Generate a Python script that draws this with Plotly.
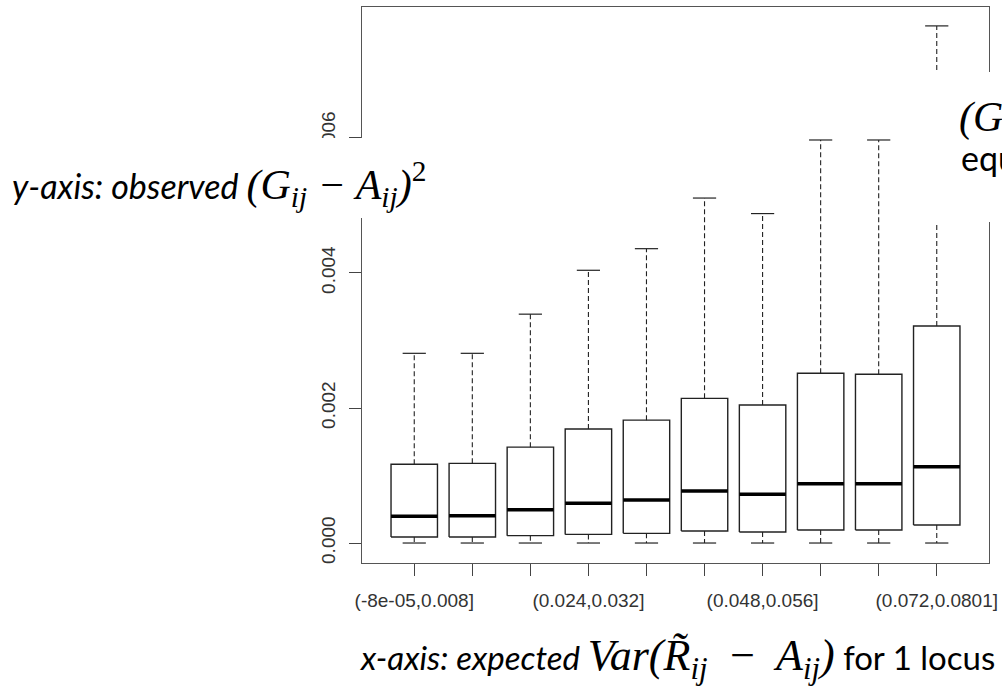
import plotly.graph_objects as go

# ---------------- data ----------------
categories = ["(-8e-05,0.008]", "(0.008,0.016]", "(0.016,0.024]", "(0.024,0.032]",
              "(0.032,0.04]", "(0.04,0.048]", "(0.048,0.056]", "(0.056,0.064]",
              "(0.064,0.072]", "(0.072,0.0801]"]
labelled_categories = ["(-8e-05,0.008]", "(0.024,0.032]", "(0.048,0.056]", "(0.072,0.0801]"]
lower_whisker = [0.0, 0.0, 0.0, 0.0, 0.0, 0.0, 0.0, 0.0, 0.0, 0.0]
q1 = [0.000089, 0.000090, 0.000109, 0.000128, 0.000143, 0.000178, 0.000163, 0.000193, 0.000193, 0.000267]
median = [0.000395, 0.000405, 0.000494, 0.000588, 0.000637, 0.000770, 0.000721, 0.000879, 0.000879, 0.001130]
q3 = [0.001166, 0.001180, 0.001420, 0.001690, 0.001820, 0.002143, 0.002044, 0.002514, 0.002500, 0.003215]
upper_whisker = [0.00281, 0.00281, 0.00339, 0.00404, 0.00436, 0.00511, 0.00488, 0.00597, 0.00597, 0.00766]
y_tick_values = [0.0, 0.002, 0.004, 0.006]
y_tick_text = ["0.000", "0.002", "0.004", "0.006"]

positions = list(range(1, len(categories) + 1))
labelled_positions = [categories.index(c) + 1 for c in labelled_categories]
BOX_HALF = 0.4
CAP_HALF = 0.2

# ---------------- build line paths ----------------
box_x, box_y, med_x, med_y = [], [], [], []
wh_x, wh_y, cap_x, cap_y = [], [], [], []
for p, lo, a, m, b, hi in zip(positions, lower_whisker, q1, median, q3, upper_whisker):
    box_x += [p - BOX_HALF, p + BOX_HALF, p + BOX_HALF, p - BOX_HALF, p - BOX_HALF, None]
    box_y += [a, a, b, b, a, None]
    med_x += [p - BOX_HALF, p + BOX_HALF, None]
    med_y += [m, m, None]
    wh_x += [p, p, None, p, p, None]
    wh_y += [b, hi, None, a, lo, None]
    cap_x += [p - CAP_HALF, p + CAP_HALF, None, p - CAP_HALF, p + CAP_HALF, None]
    cap_y += [hi, hi, None, lo, lo, None]

fig = go.Figure()
common = dict(mode="lines", hoverinfo="skip", showlegend=False)
fig.add_trace(go.Scatter(x=wh_x, y=wh_y, line=dict(color="#222", width=1.1, dash="5px,3px"), **common))
fig.add_trace(go.Scatter(x=cap_x, y=cap_y, line=dict(color="#222", width=1.2), **common))
fig.add_trace(go.Scatter(x=box_x, y=box_y, line=dict(color="#222", width=1.4), **common))
fig.add_trace(go.Scatter(x=med_x, y=med_y, line=dict(color="#000", width=3.5), **common))

# ---------------- geometry helpers (pixels -> paper) ----------------
W, H = 1002, 690
PL, PR, PT, PB = 362, 989, 7, 563


def px_x(px):
    return (px - PL) / (PR - PL)


def px_y(py):
    return (PB - py) / (PB - PT)


tick_font = dict(family="Liberation Sans, Arial, sans-serif", size=19, color="#333")

fig.update_layout(
    width=W, height=H,
    margin=dict(l=PL, r=W - PR, t=PT, b=H - PB, autoexpand=False),
    paper_bgcolor="white", plot_bgcolor="white",
    xaxis=dict(range=[0.1, 10.9], tickmode="array", tickvals=labelled_positions, ticktext=labelled_categories,
               ticks="outside", ticklen=12, tickwidth=1, tickcolor="#444",
               minor=dict(tickmode="array", tickvals=positions, ticks="outside", ticklen=12,
                          tickwidth=1, tickcolor="#444", showgrid=False),
               showline=True, mirror=True, linecolor="#555", linewidth=1.2,
               showgrid=False, zeroline=False, tickfont=tick_font, ticklabelstandoff=8),
    yaxis=dict(range=[-0.000296, 0.00794], tickmode="array", tickvals=y_tick_values, ticktext=y_tick_text,
               tickangle=-90, ticks="outside", ticklen=12, tickwidth=1, tickcolor="#444",
               showline=True, mirror=True, linecolor="#555", linewidth=1.2,
               showgrid=False, zeroline=False, tickfont=tick_font, ticklabelstandoff=6),
)

# white text-box covers (as in the reference slide overlay)
fig.add_shape(type="rect", xref="paper", yref="paper", layer="above",
              x0=px_x(0), x1=px_x(400), y0=px_y(218), y1=px_y(138),
              fillcolor="white", line=dict(width=0))
fig.add_shape(type="rect", xref="paper", yref="paper", layer="above",
              x0=px_x(925), x1=px_x(1010), y0=px_y(222), y1=px_y(72),
              fillcolor="white", line=dict(width=0))

sans = "Lato, 'Open Sans', sans-serif"
serif = "'Liberation Serif', 'DejaVu Serif', serif"


def math(size):
    return f"font-family:{serif};font-size:{size}px"


TH = "\u2009"

fig.add_annotation(
    xref="paper", yref="paper", x=px_x(10), y=px_y(184), xanchor="left", yanchor="middle",
    showarrow=False, font=dict(family=sans, size=34, color="black"),
    text=("<i>y-axis: observed </i>"
          f"<span style=\"{math(42)}\"><i>(G<sub>ij</sub> − A<sub>ij</sub>)</i><sup>2</sup></span>"),
)
fig.add_annotation(
    xref="paper", yref="paper", x=px_x(997), y=px_y(658), xanchor="right", yanchor="middle",
    showarrow=False, font=dict(family=sans, size=33, color="black"),
    text=("<i>x-axis: expected </i>"
          f"<span style=\"{math(44)}\"><i>Var(R\u0303<sub>ij</sub>{TH} −{TH} A<sub>ij</sub>)</i></span>"
          " for 1 locus"),
)
# right-hand text box (cut off by the page edge)
fig.add_annotation(
    xref="paper", yref="paper", x=px_x(957), y=px_y(116), xanchor="left", yanchor="middle",
    showarrow=False, font=dict(family=sans, size=34, color="black"),
    text=f"<span style=\"{math(42)}\"><i>(G<sub>ij</sub> − A<sub>ij</sub>)</i><sup>2</sup></span>",
)
fig.add_annotation(
    xref="paper", yref="paper", x=px_x(959), y=px_y(157), xanchor="left", yanchor="middle",
    showarrow=False, font=dict(family=sans, size=34, color="black"),
    text="equals",
)

fig.write_html("out.html", config={"displayModeBar": False},
               post_script="document.body.style.margin='0px';")
